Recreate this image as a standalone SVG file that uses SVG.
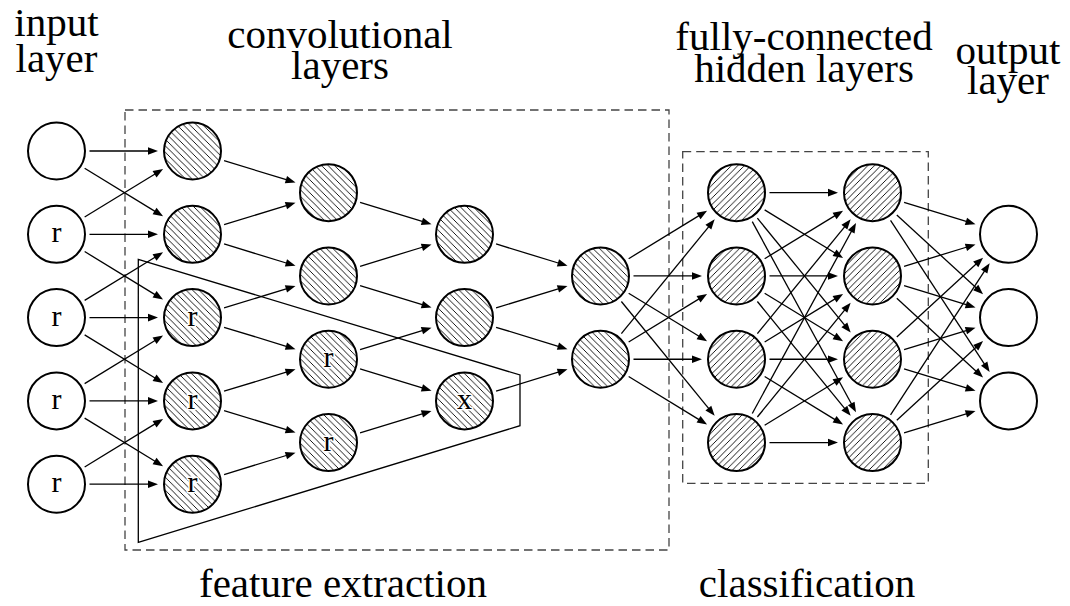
<svg xmlns="http://www.w3.org/2000/svg" width="1070" height="606" viewBox="0 0 1070 606">
  <style>
    .label { font-family: "Liberation Serif", "Times New Roman", serif; font-size: 41px; fill: #000; text-anchor: middle; }
    .node { stroke: #000; stroke-width: 2; }
    .plain { fill: #fff; }
    .conv { fill: url(#hatchBack); }
    .fc { fill: url(#hatchFwd); }
    .tag { font-family: "Liberation Serif", "Times New Roman", serif; font-size: 30px; fill: #000; text-anchor: middle; }
    .halo { stroke: #fff; stroke-width: 3; paint-order: stroke; stroke-linejoin: round; }
    .box { fill: none; stroke: #444; stroke-width: 1.3; stroke-dasharray: 8.5 5; }
    .trap { fill: none; stroke: #000; stroke-width: 1.3; }
    #connectors line { stroke: #000; stroke-width: 1.3; marker-end: url(#head); }
  </style>
  <defs>
    <!-- "\\" hatching for the convolutional units -->
    <pattern id="hatchBack" width="6.5" height="6.5" patternUnits="userSpaceOnUse">
      <rect width="6.5" height="6.5" fill="#fff"/>
      <path d="M-1,-1 L7.5,7.5 M-1,5.5 L1,7.5 M5.5,-1 L7.5,1" stroke="#000" stroke-width="0.9"/>
    </pattern>
    <!-- "/" hatching for the fully-connected units -->
    <pattern id="hatchFwd" width="6.5" height="6.5" patternUnits="userSpaceOnUse">
      <rect width="6.5" height="6.5" fill="#fff"/>
      <path d="M-1,7.5 L7.5,-1 M-1,1 L1,-1 M5.5,7.5 L7.5,5.5" stroke="#000" stroke-width="0.9"/>
    </pattern>
    <marker id="head" markerUnits="userSpaceOnUse" markerWidth="12" markerHeight="10" refX="2" refY="0" orient="auto" overflow="visible">
      <path d="M0,-3.8 L10,0 L0,3.8 z" fill="#000"/>
    </marker>
  </defs>

  <rect width="1070" height="606" fill="#fff"/>

  <!-- group frames -->
  <g id="frames">
    <rect class="box" x="125" y="110" width="544" height="440"/>
    <rect class="box" x="682.7" y="151.7" width="245.6" height="331.6"/>
    <polygon class="trap" points="138.3,259.3 520,375 520,425.7 138.3,542.3"/>
  </g>

  <g id="connectors">
    <!-- input -> conv 1 -->
    <line x1="89.5" y1="151" x2="150" y2="151"/>
    <line x1="84.64" y1="168.24" x2="156.26" y2="212.1"/>
    <line x1="84.64" y1="217.06" x2="156.26" y2="173.2"/>
    <line x1="89.5" y1="234.3" x2="150" y2="234.3"/>
    <line x1="84.64" y1="251.54" x2="156.26" y2="295.4"/>
    <line x1="84.64" y1="300.36" x2="156.26" y2="256.5"/>
    <line x1="89.5" y1="317.6" x2="150" y2="317.6"/>
    <line x1="84.64" y1="334.84" x2="156.26" y2="378.7"/>
    <line x1="84.64" y1="383.66" x2="156.26" y2="339.8"/>
    <line x1="89.5" y1="400.9" x2="150" y2="400.9"/>
    <line x1="84.64" y1="418.14" x2="156.26" y2="462"/>
    <line x1="84.64" y1="466.96" x2="156.26" y2="423.1"/>
    <line x1="89.5" y1="484.2" x2="150" y2="484.2"/>
    <!-- conv 1 -> conv 2 -->
    <line x1="224.05" y1="160.66" x2="287.86" y2="180.2"/>
    <line x1="224.05" y1="224.64" x2="287.86" y2="205.1"/>
    <line x1="224.05" y1="243.96" x2="287.86" y2="263.5"/>
    <line x1="224.05" y1="307.94" x2="287.86" y2="288.4"/>
    <line x1="224.05" y1="327.26" x2="287.86" y2="346.8"/>
    <line x1="224.05" y1="391.24" x2="287.86" y2="371.7"/>
    <line x1="224.05" y1="410.56" x2="287.86" y2="430.1"/>
    <line x1="224.05" y1="474.54" x2="287.86" y2="455"/>
    <!-- conv 2 -> conv 3 -->
    <line x1="360.05" y1="202.31" x2="423.86" y2="221.85"/>
    <line x1="360.05" y1="266.29" x2="423.86" y2="246.75"/>
    <line x1="360.05" y1="285.61" x2="423.86" y2="305.15"/>
    <line x1="360.05" y1="349.59" x2="423.86" y2="330.05"/>
    <line x1="360.05" y1="368.91" x2="423.86" y2="388.45"/>
    <line x1="360.05" y1="432.89" x2="423.86" y2="413.35"/>
    <!-- conv 3 -> conv 4 -->
    <line x1="496.05" y1="243.96" x2="559.86" y2="263.5"/>
    <line x1="496.05" y1="307.94" x2="559.86" y2="288.4"/>
    <line x1="496.05" y1="327.26" x2="559.86" y2="346.8"/>
    <line x1="496.05" y1="391.24" x2="559.86" y2="371.7"/>
    <!-- conv 4 -> hidden 1 -->
    <line x1="628.64" y1="258.71" x2="700.26" y2="214.85"/>
    <line x1="633.5" y1="275.95" x2="694" y2="275.95"/>
    <line x1="628.64" y1="293.19" x2="700.26" y2="337.05"/>
    <line x1="621.37" y1="301.51" x2="709.62" y2="409.63"/>
    <line x1="621.37" y1="333.69" x2="709.62" y2="225.57"/>
    <line x1="628.64" y1="342.01" x2="700.26" y2="298.15"/>
    <line x1="633.5" y1="359.25" x2="694" y2="359.25"/>
    <line x1="628.64" y1="376.49" x2="700.26" y2="420.35"/>
    <!-- hidden 1 -> hidden 2 -->
    <line x1="769.5" y1="192.65" x2="830" y2="192.65"/>
    <line x1="764.64" y1="209.89" x2="836.26" y2="253.75"/>
    <line x1="757.37" y1="218.21" x2="845.62" y2="326.33"/>
    <line x1="752.27" y1="221.64" x2="852.18" y2="405.22"/>
    <line x1="764.64" y1="258.71" x2="836.26" y2="214.85"/>
    <line x1="769.5" y1="275.95" x2="830" y2="275.95"/>
    <line x1="764.64" y1="293.19" x2="836.26" y2="337.05"/>
    <line x1="757.37" y1="301.51" x2="845.62" y2="409.63"/>
    <line x1="757.37" y1="333.69" x2="845.62" y2="225.57"/>
    <line x1="764.64" y1="342.01" x2="836.26" y2="298.15"/>
    <line x1="769.5" y1="359.25" x2="830" y2="359.25"/>
    <line x1="764.64" y1="376.49" x2="836.26" y2="420.35"/>
    <line x1="752.27" y1="413.56" x2="852.18" y2="229.98"/>
    <line x1="757.37" y1="416.99" x2="845.62" y2="308.87"/>
    <line x1="764.64" y1="425.31" x2="836.26" y2="381.45"/>
    <line x1="769.5" y1="442.55" x2="830" y2="442.55"/>
    <!-- hidden 2 -> output -->
    <line x1="904.05" y1="202.31" x2="967.86" y2="221.85"/>
    <line x1="896.8" y1="214.98" x2="977.2" y2="288.85"/>
    <line x1="890.54" y1="220.28" x2="985.27" y2="365.36"/>
    <line x1="904.05" y1="266.29" x2="967.86" y2="246.75"/>
    <line x1="904.05" y1="285.61" x2="967.86" y2="305.15"/>
    <line x1="896.8" y1="298.28" x2="977.2" y2="372.15"/>
    <line x1="896.8" y1="336.92" x2="977.2" y2="263.05"/>
    <line x1="904.05" y1="349.59" x2="967.86" y2="330.05"/>
    <line x1="904.05" y1="368.91" x2="967.86" y2="388.45"/>
    <line x1="890.54" y1="414.92" x2="985.27" y2="269.84"/>
    <line x1="896.8" y1="420.22" x2="977.2" y2="346.35"/>
    <line x1="904.05" y1="432.89" x2="967.86" y2="413.35"/>
  </g>

  <!-- input layer -->
  <g id="in0"><circle class="node plain" cx="56.5" cy="151" r="28.5"/></g>
  <g id="in1"><circle class="node plain" cx="56.5" cy="234.3" r="28.5"/><text class="tag" x="56.5" y="242.3">r</text></g>
  <g id="in2"><circle class="node plain" cx="56.5" cy="317.6" r="28.5"/><text class="tag" x="56.5" y="325.6">r</text></g>
  <g id="in3"><circle class="node plain" cx="56.5" cy="400.9" r="28.5"/><text class="tag" x="56.5" y="408.9">r</text></g>
  <g id="in4"><circle class="node plain" cx="56.5" cy="484.2" r="28.5"/><text class="tag" x="56.5" y="492.2">r</text></g>

  <!-- convolutional layer 1 -->
  <g id="c1a"><circle class="node conv" cx="192.5" cy="151" r="28.5"/></g>
  <g id="c1b"><circle class="node conv" cx="192.5" cy="234.3" r="28.5"/></g>
  <g id="c1c"><circle class="node conv" cx="192.5" cy="317.6" r="28.5"/><text class="tag halo" x="192.5" y="325.6">r</text></g>
  <g id="c1d"><circle class="node conv" cx="192.5" cy="400.9" r="28.5"/><text class="tag halo" x="192.5" y="408.9">r</text></g>
  <g id="c1e"><circle class="node conv" cx="192.5" cy="484.2" r="28.5"/><text class="tag halo" x="192.5" y="492.2">r</text></g>

  <!-- convolutional layer 2 -->
  <g id="c2a"><circle class="node conv" cx="328.5" cy="192.65" r="28.5"/></g>
  <g id="c2b"><circle class="node conv" cx="328.5" cy="275.95" r="28.5"/></g>
  <g id="c2c"><circle class="node conv" cx="328.5" cy="359.25" r="28.5"/><text class="tag halo" x="328.5" y="367.25">r</text></g>
  <g id="c2d"><circle class="node conv" cx="328.5" cy="442.55" r="28.5"/><text class="tag halo" x="328.5" y="450.55">r</text></g>

  <!-- convolutional layer 3 -->
  <g id="c3a"><circle class="node conv" cx="464.5" cy="234.3" r="28.5"/></g>
  <g id="c3b"><circle class="node conv" cx="464.5" cy="317.6" r="28.5"/></g>
  <g id="c3c"><circle class="node conv" cx="464.5" cy="400.9" r="28.5"/><text class="tag halo" x="464.5" y="408.9">x</text></g>

  <!-- convolutional layer 4 -->
  <g id="c4a"><circle class="node conv" cx="600.5" cy="275.95" r="28.5"/></g>
  <g id="c4b"><circle class="node conv" cx="600.5" cy="359.25" r="28.5"/></g>

  <!-- hidden layer 1 -->
  <g id="h1a"><circle class="node fc" cx="736.5" cy="192.65" r="28.5"/></g>
  <g id="h1b"><circle class="node fc" cx="736.5" cy="275.95" r="28.5"/></g>
  <g id="h1c"><circle class="node fc" cx="736.5" cy="359.25" r="28.5"/></g>
  <g id="h1d"><circle class="node fc" cx="736.5" cy="442.55" r="28.5"/></g>

  <!-- hidden layer 2 -->
  <g id="h2a"><circle class="node fc" cx="872.5" cy="192.65" r="28.5"/></g>
  <g id="h2b"><circle class="node fc" cx="872.5" cy="275.95" r="28.5"/></g>
  <g id="h2c"><circle class="node fc" cx="872.5" cy="359.25" r="28.5"/></g>
  <g id="h2d"><circle class="node fc" cx="872.5" cy="442.55" r="28.5"/></g>

  <!-- output layer -->
  <g id="out0"><circle class="node plain" cx="1008.5" cy="234.3" r="28.5"/></g>
  <g id="out1"><circle class="node plain" cx="1008.5" cy="317.6" r="28.5"/></g>
  <g id="out2"><circle class="node plain" cx="1008.5" cy="400.9" r="28.5"/></g>

  <!-- captions -->
  <g id="captions">
    <text class="label" x="56.5" y="36"><tspan x="56.5">input</tspan><tspan x="56.5" dy="36">layer</tspan></text>
    <text class="label" x="340" y="47.5"><tspan x="340">convolutional</tspan><tspan x="340" dy="31">layers</tspan></text>
    <text class="label" x="804" y="49.5"><tspan x="804">fully-connected</tspan><tspan x="804" dy="32.5">hidden layers</tspan></text>
    <text class="label" x="1008" y="64"><tspan x="1008">output</tspan><tspan x="1008" dy="30">layer</tspan></text>
    <text class="label" x="343" y="597">feature extraction</text>
    <text class="label" x="807" y="597">classification</text>
  </g>
</svg>
